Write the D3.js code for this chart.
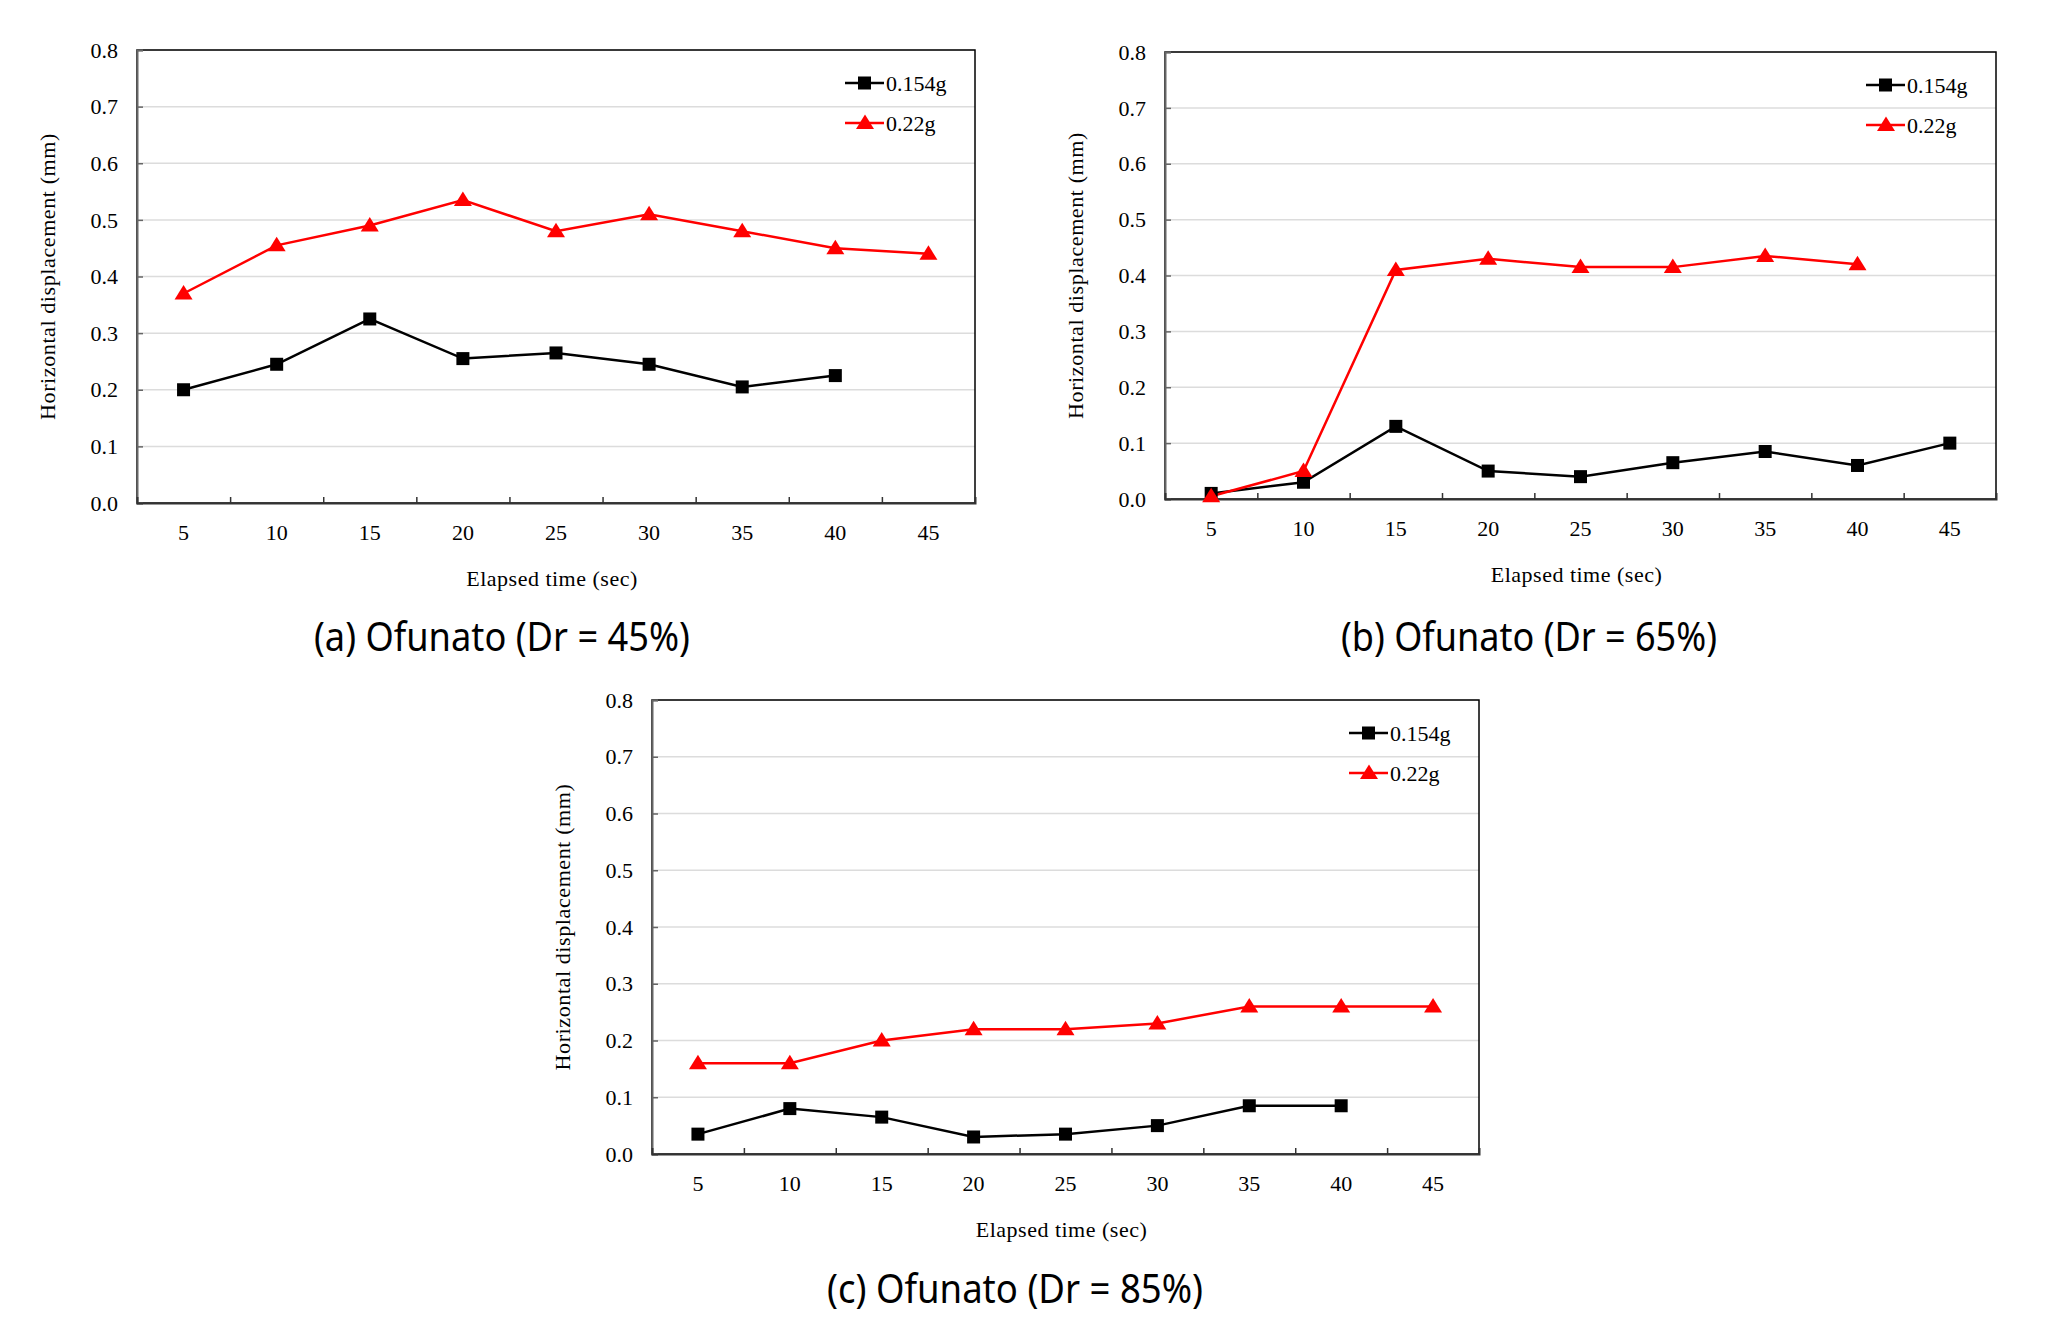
<!DOCTYPE html>
<html lang="en">
<head>
<meta charset="UTF-8">
<title>Horizontal displacement - Ofunato</title>
<script src="https://cdnjs.cloudflare.com/ajax/libs/d3/7.8.5/d3.min.js"></script>
<style>
  body { margin: 0; background: #fff; }
  .tick-label { font-family: "Liberation Serif", "Times New Roman", serif; font-size: 22px; fill: #000; }
  .axis-title { font-family: "Liberation Serif", "Times New Roman", serif; font-size: 22px; fill: #000; }
  .panel-title { font-family: "Noto Sans", sans-serif; font-size: 40px; fill: #000; }
</style>
</head>
<body>
<div id="chart"></div>
<script>
// categories and ticks
const categories = [5, 10, 15, 20, 25, 30, 35, 40, 45];
const yTicks = [0, 0.1, 0.2, 0.3, 0.4, 0.5, 0.6, 0.7, 0.8];
const seriesNames = ["0.154g", "0.22g"];
const panelTitles = ["(a) Ofunato (Dr = 45%)", "(b) Ofunato (Dr = 65%)", "(c) Ofunato (Dr = 85%)"];

// values (mm)
const dr45_154 = [0.200, 0.245, 0.325, 0.255, 0.265, 0.245, 0.205, 0.225];
const dr45_22  = [0.370, 0.455, 0.490, 0.535, 0.480, 0.510, 0.480, 0.450, 0.440];
const dr65_154 = [0.010, 0.030, 0.130, 0.050, 0.040, 0.065, 0.085, 0.060, 0.100];
const dr65_22  = [0.005, 0.050, 0.410, 0.430, 0.415, 0.415, 0.435, 0.420];
const dr85_154 = [0.035, 0.080, 0.065, 0.030, 0.035, 0.050, 0.085, 0.085];
const dr85_22  = [0.160, 0.160, 0.200, 0.220, 0.220, 0.230, 0.260, 0.260, 0.260];

// plot-area boxes of the three panels
const panels = [
  { x0: 137, y0: 50,  x1: 975,  y1: 503,  tx: 502,  ty: 637,  title: panelTitles[0], black: dr45_154, red: dr45_22 },
  { x0: 1165, y0: 52, x1: 1996, y1: 499,  tx: 1529, ty: 637,  title: panelTitles[1], black: dr65_154, red: dr65_22 },
  { x0: 652, y0: 700, x1: 1479, y1: 1154, tx: 1015, ty: 1289, title: panelTitles[2], black: dr85_154, red: dr85_22 }
];

const svg = d3.select("#chart").append("svg")
  .attr("width", 2048)
  .attr("height", 1340);

svg.append("rect").attr("width", 2048).attr("height", 1340).attr("fill", "#fff");

const triPath = "M0,-8.5L9,6L-9,6Z";

panels.forEach(p => {
  const g = svg.append("g");

  const x = d3.scaleBand()
    .domain(categories)
    .range([p.x0, p.x1]);

  const y = d3.scaleLinear()
    .domain([0, 0.8])
    .range([p.y1, p.y0]);

  // gridlines
  g.selectAll(".grid")
    .data(yTicks.slice(1))
    .join("line")
    .attr("x1", p.x0).attr("x2", p.x1)
    .attr("y1", d => y(d)).attr("y2", d => y(d))
    .attr("stroke", "#dcdcdc")
    .attr("stroke-width", 1.5);

  // plot border
  g.append("rect")
    .attr("x", p.x0).attr("y", p.y0)
    .attr("width", p.x1 - p.x0).attr("height", p.y1 - p.y0)
    .attr("fill", "none")
    .attr("stroke", "#000")
    .attr("stroke-width", 1.5);

  // y axis (ticks inside)
  const yAxis = g.append("g")
    .attr("transform", `translate(${p.x0},0)`)
    .call(d3.axisRight(y).tickValues(yTicks).tickSize(6).tickFormat(""));
  yAxis.select(".domain").attr("stroke", "#666").attr("stroke-width", 2);
  yAxis.selectAll(".tick line").attr("stroke", "#666").attr("stroke-width", 1.5);

  g.selectAll(".ylab")
    .data(yTicks)
    .join("text")
    .attr("class", "tick-label")
    .attr("x", p.x0 - 19)
    .attr("y", d => y(d))
    .attr("dy", "0.35em")
    .attr("text-anchor", "end")
    .text(d => d.toFixed(1));

  // x axis: ticks between categories, pointing up
  const xb = d3.scaleLinear().domain([0, categories.length]).range([p.x0, p.x1]);
  const xAxis = g.append("g")
    .attr("transform", `translate(0,${p.y1})`)
    .call(d3.axisTop(xb).tickValues(d3.range(1, categories.length)).tickSize(6).tickFormat(""));
  xAxis.select(".domain").attr("stroke", "#333").attr("stroke-width", 2);
  xAxis.selectAll(".tick line").attr("stroke", "#333").attr("stroke-width", 1.5);

  g.selectAll(".xlab")
    .data(categories)
    .join("text")
    .attr("class", "tick-label")
    .attr("x", d => x(d) + x.bandwidth() / 2)
    .attr("y", p.y1 + 29)
    .attr("dy", "0.35em")
    .attr("text-anchor", "middle")
    .text(d => d);

  // axis titles
  g.append("text")
    .attr("class", "axis-title")
    .attr("x", (p.x0 + p.x1) / 2 - 4)
    .attr("y", p.y1 + 75)
    .attr("dy", "0.35em")
    .attr("text-anchor", "middle")
    .style("letter-spacing", "0.5px")
    .text("Elapsed time (sec)");

  g.append("text")
    .attr("class", "axis-title")
    .attr("transform", `translate(${p.x0 - 90},${(p.y0 + p.y1) / 2}) rotate(-90)`)
    .attr("dy", "0.35em")
    .attr("text-anchor", "middle")
    .style("letter-spacing", "0.6px")
    .text("Horizontal displacement (mm)");

  // series
  const line = d3.line()
    .x((d, i) => x(categories[i]) + x.bandwidth() / 2)
    .y(d => y(d));

  g.append("path").datum(p.black)
    .attr("d", line).attr("fill", "none")
    .attr("stroke", "#000").attr("stroke-width", 2.5);
  g.append("path").datum(p.red)
    .attr("d", line).attr("fill", "none")
    .attr("stroke", "#ff0000").attr("stroke-width", 2.5);

  g.selectAll(".sq")
    .data(p.black)
    .join("rect")
    .attr("x", (d, i) => x(categories[i]) + x.bandwidth() / 2 - 6.5)
    .attr("y", d => y(d) - 6.5)
    .attr("width", 13).attr("height", 13)
    .attr("fill", "#000");

  g.selectAll(".tri")
    .data(p.red)
    .join("path")
    .attr("d", triPath)
    .attr("transform", (d, i) => `translate(${x(categories[i]) + x.bandwidth() / 2},${y(d)})`)
    .attr("fill", "#ff0000");

  // legend
  const leg = g.append("g").attr("transform", `translate(${p.x1},${p.y0})`);
  const rows = [
    { name: seriesNames[0], color: "#000", dy: 33 },
    { name: seriesNames[1], color: "#ff0000", dy: 73 }
  ];
  rows.forEach((r, i) => {
    leg.append("line")
      .attr("x1", -130).attr("x2", -91)
      .attr("y1", r.dy).attr("y2", r.dy)
      .attr("stroke", r.color).attr("stroke-width", 2.5);
    if (i === 0) {
      leg.append("rect").attr("x", -117).attr("y", r.dy - 6.5)
        .attr("width", 13).attr("height", 13).attr("fill", r.color);
    } else {
      leg.append("path").attr("d", triPath)
        .attr("transform", `translate(-110,${r.dy})`).attr("fill", r.color);
    }
    leg.append("text")
      .attr("class", "tick-label")
      .attr("x", -89).attr("y", r.dy)
      .attr("dy", "0.35em")
      .text(r.name);
  });

  // panel caption
  svg.append("text")
    .attr("class", "panel-title")
    .attr("x", p.tx).attr("y", p.ty)
    .attr("dy", "0.35em")
    .attr("text-anchor", "middle")
    .attr("textLength", 376)
    .attr("lengthAdjust", "spacingAndGlyphs")
    .text(p.title);
});
</script>
</body>
</html>
